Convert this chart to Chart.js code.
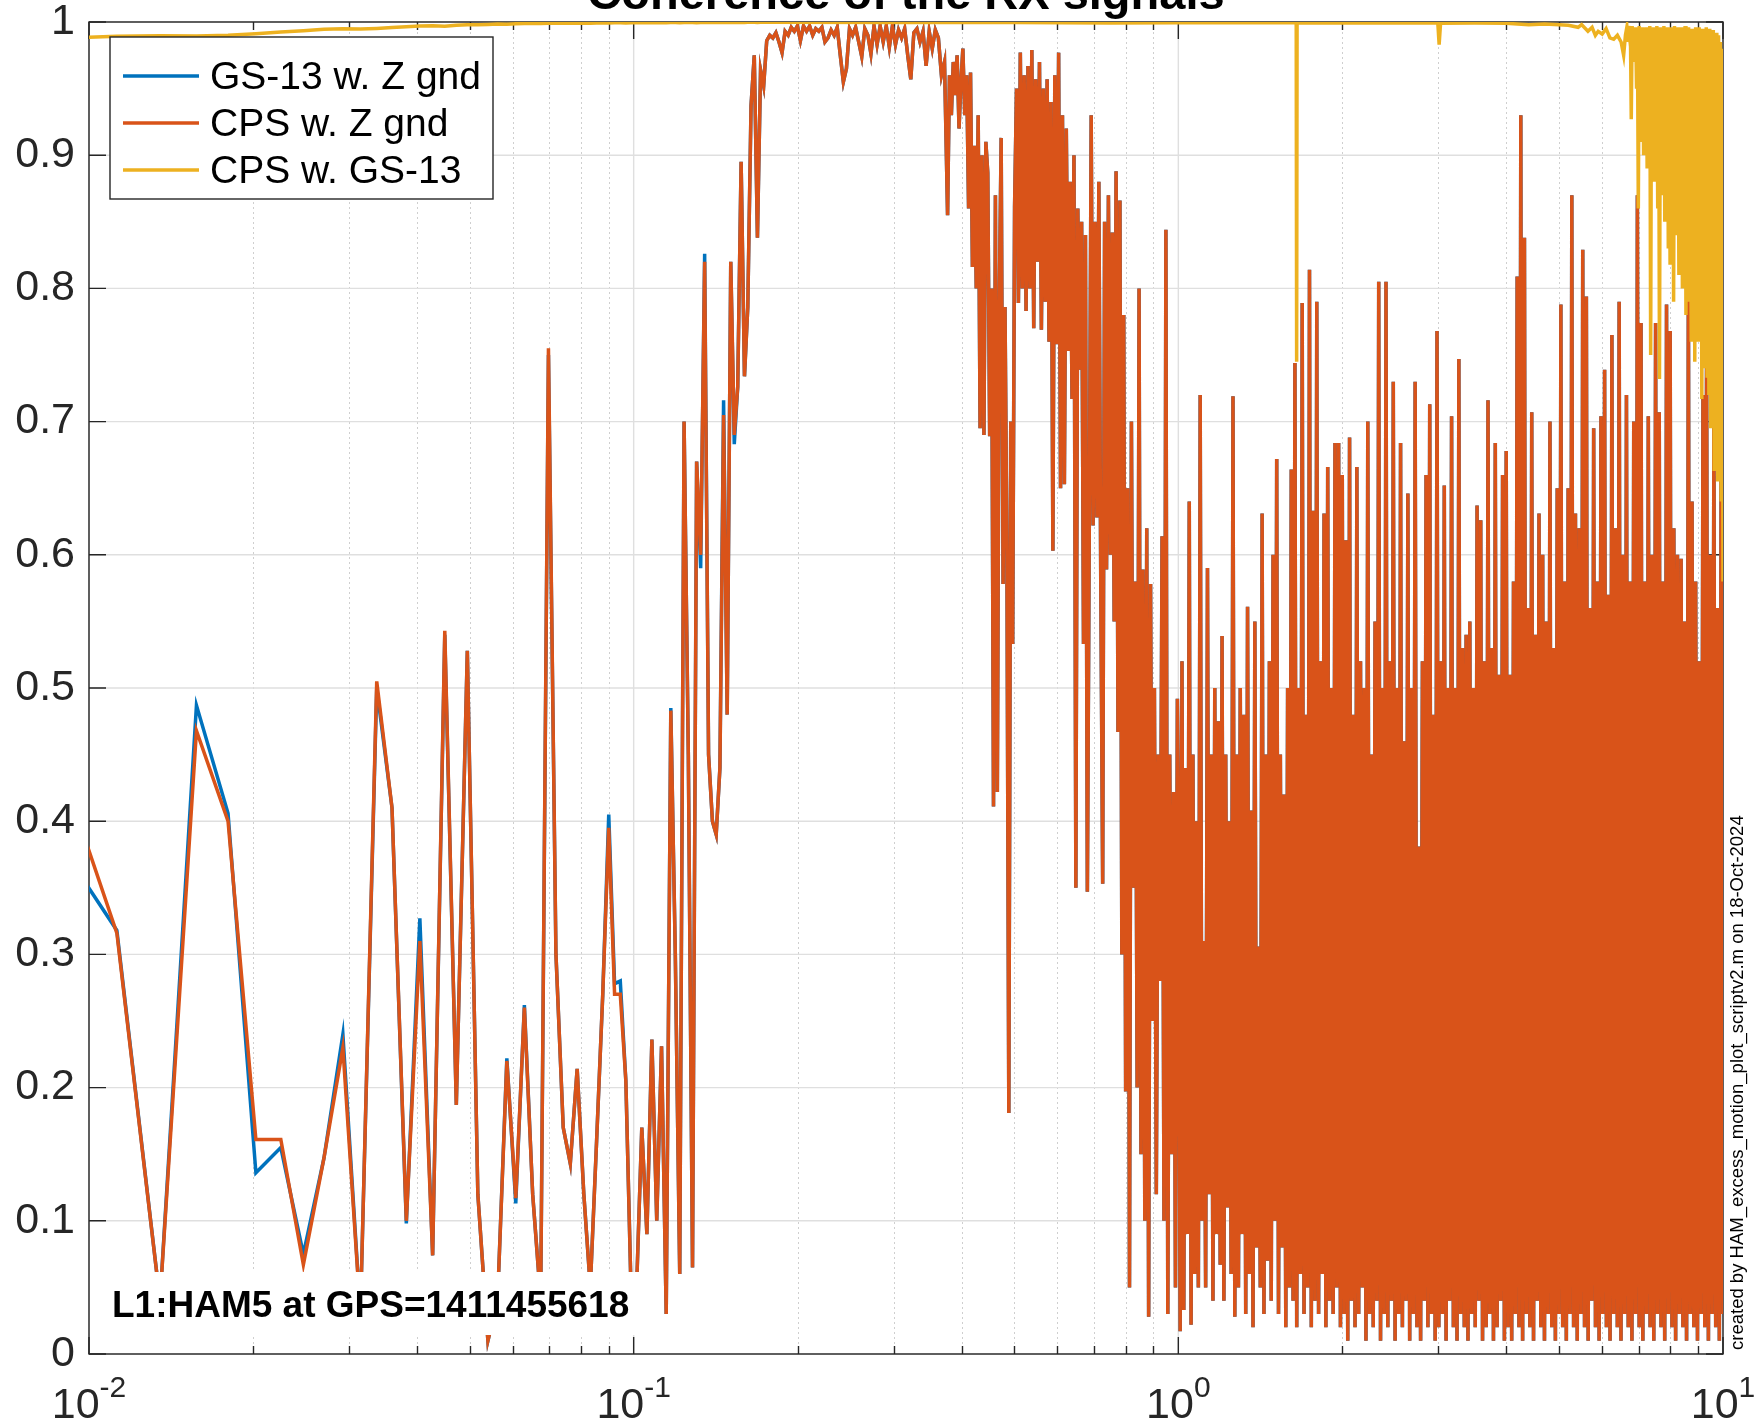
<!DOCTYPE html>
<html>
<head>
<meta charset="utf-8">
<title>Coherence of the RX signals</title>
<script src="https://cdn.jsdelivr.net/npm/chart.js@4.4.1/dist/chart.umd.min.js"></script>
<style>
  html, body { margin: 0; padding: 0; background: #fff; }
  canvas { display: block; }
</style>
</head>
<body>
<canvas id="coh" width="1754" height="1427"></canvas>
<script>
const binHz = 0.00225;
const firstBin = 4;

// CPS w. Z gnd, bins 4..77
const cpsLow = [
  0.433, 0.316, 0.04, 0.468, 0.400, 0.161, 0.161, 0.067, 0.147, 0.230,
  0.03, 0.505, 0.41, 0.10, 0.31, 0.074, 0.543, 0.187, 0.528, 0.12,
  0.01, 0.04, 0.22, 0.117, 0.26, 0.12, 0.04, 0.755, 0.30, 0.17,
  0.143, 0.214, 0.12, 0.05, 0.16, 0.27, 0.395, 0.27, 0.27, 0.205,
  0.04, 0.05, 0.17, 0.09, 0.236, 0.10, 0.231, 0.03, 0.483, 0.30,
  0.06, 0.70, 0.45, 0.065, 0.67, 0.60, 0.82, 0.45, 0.40, 0.39,
  0.44, 0.705, 0.48, 0.82, 0.69, 0.726, 0.895, 0.734, 0.786, 0.937,
  0.975, 0.838, 0.964, 0.952
];
// GS-13 w. Z gnd, bins 4..77
const gsLow = [
  0.378, 0.318, 0.04, 0.487, 0.406, 0.136, 0.155, 0.075, 0.147, 0.240,
  0.03, 0.50, 0.41, 0.098, 0.327, 0.074, 0.54, 0.187, 0.528, 0.12,
  0.01, 0.04, 0.222, 0.113, 0.262, 0.12, 0.04, 0.75, 0.30, 0.17,
  0.143, 0.214, 0.12, 0.05, 0.16, 0.27, 0.405, 0.278, 0.28, 0.205,
  0.04, 0.05, 0.17, 0.09, 0.236, 0.10, 0.231, 0.03, 0.485, 0.30,
  0.06, 0.70, 0.45, 0.065, 0.67, 0.59, 0.826, 0.45, 0.40, 0.39,
  0.44, 0.716, 0.48, 0.82, 0.683, 0.726, 0.895, 0.734, 0.786, 0.937,
  0.975, 0.838, 0.964, 0.952
];
// CPS w. GS-13, bins 4..77
const crossLow = [
  0.988, 0.9893, 0.9897, 0.9895, 0.990, 0.9912, 0.9925, 0.9935, 0.9945, 0.995,
  0.9948, 0.9952, 0.9958, 0.9965, 0.997, 0.9972, 0.9968, 0.9975, 0.998, 0.998,
  0.9982, 0.9985, 0.9983, 0.9987, 0.9988, 0.999, 0.9988, 0.999, 0.9991, 0.999,
  0.9992, 0.999, 0.9993, 0.9991, 0.9993, 0.9994, 0.9992, 0.9994, 0.9995, 0.9993,
  0.9994, 0.9995, 0.9994, 0.9996, 0.9995, 0.9994, 0.9996, 0.9995, 0.9996, 0.9996,
  0.9995, 0.9996, 0.9997, 0.9996, 0.9995, 0.9997, 0.9996, 0.9997, 0.9997, 0.9996,
  0.9997, 0.9996, 0.9997, 0.9998, 0.9997, 0.9997, 0.9998, 0.9997, 0.9998, 0.9998,
  0.9998, 0.9997, 0.9998, 0.9998
];

// above 0.175 Hz the CPS trace is read on log-spaced positions across each span
const plateauSpan = [0.1755, 0.377];
const cpsPlateau = [
  0.986, 0.990, 0.988, 0.992, 0.985, 0.977, 0.993, 0.990, 0.996, 0.993,
  0.997, 0.986, 0.997, 0.993, 0.997, 0.990, 0.995, 0.993, 0.996, 0.985,
  0.988, 0.994, 0.990, 0.996, 0.975, 0.955, 0.965, 0.995, 0.990, 0.996,
  0.985, 0.974, 0.995, 0.990, 0.976, 0.997, 0.983, 0.997, 0.985, 0.997,
  0.981, 0.997, 0.983, 0.994, 0.988, 0.995, 0.975, 0.957, 0.992, 0.995,
  0.985, 0.993, 0.967, 0.993, 0.980, 0.994, 0.988, 0.960, 0.970, 0.855
];
const kneeSpan = [0.38, 0.996];
const cpsKnee = [
  0.96, 0.93, 0.97, 0.945, 0.975, 0.92, 0.955, 0.98, 0.93, 0.96,
  0.86, 0.962, 0.816, 0.907, 0.80, 0.93, 0.695, 0.90, 0.69, 0.91,
  0.887, 0.689, 0.80, 0.411, 0.87, 0.422, 0.789, 0.913, 0.578, 0.786,
  0.60, 0.181, 0.70, 0.533, 0.861, 0.95, 0.789, 0.977, 0.80, 0.96,
  0.783, 0.967, 0.80, 0.979, 0.77, 0.957, 0.82, 0.97, 0.769, 0.95,
  0.79, 0.957, 0.76, 0.94, 0.603, 0.96, 0.758, 0.977, 0.65, 0.93,
  0.653, 0.92, 0.753, 0.88, 0.717, 0.90, 0.35, 0.86, 0.739, 0.85,
  0.533, 0.84, 0.347, 0.62, 0.93, 0.622, 0.85, 0.628, 0.88, 0.58,
  0.353, 0.85, 0.589, 0.87, 0.60, 0.842, 0.55, 0.888, 0.467, 0.866,
  0.30, 0.78, 0.197, 0.65, 0.05, 0.70, 0.35, 0.58, 0.20, 0.80,
  0.15, 0.589, 0.10, 0.62, 0.028, 0.578, 0.25, 0.50, 0.12, 0.45,
  0.28, 0.614, 0.10, 0.844, 0.03, 0.45, 0.15, 0.422, 0.05, 0.492
];
const highSpan = [1.0, 10.0];
const cpsHigh = [
  0.42, 0.017, 0.52, 0.033, 0.44, 0.09, 0.64, 0.022, 0.45, 0.06, 0.40, 0.05,
  0.72, 0.10, 0.31, 0.05, 0.59, 0.12, 0.45, 0.04, 0.50, 0.09, 0.475, 0.067,
  0.539, 0.04, 0.45, 0.11, 0.40, 0.06, 0.719, 0.028, 0.45, 0.05, 0.50, 0.09,
  0.48, 0.03, 0.561, 0.06, 0.408, 0.02, 0.55, 0.08, 0.306, 0.05, 0.631, 0.03,
  0.45, 0.07, 0.52, 0.04, 0.60, 0.10,
  0.672, 0.03, 0.45, 0.08, 0.42, 0.02, 0.50, 0.05, 0.664, 0.04, 0.744, 0.02,
  0.50, 0.06, 0.789, 0.03, 0.48, 0.05, 0.814, 0.02, 0.633, 0.04, 0.79, 0.03,
  0.52, 0.06, 0.631, 0.02, 0.666, 0.04, 0.50, 0.03, 0.684, 0.05, 0.684, 0.02,
  0.66, 0.03, 0.611, 0.01, 0.688, 0.04, 0.48, 0.02, 0.666, 0.03, 0.52, 0.05,
  0.50, 0.01, 0.70, 0.03, 0.45, 0.02, 0.55, 0.04, 0.805, 0.01, 0.50, 0.03,
  0.805, 0.02, 0.52, 0.04, 0.73, 0.01, 0.50, 0.03, 0.684, 0.02, 0.46, 0.04,
  0.646, 0.01, 0.50, 0.03, 0.73, 0.02, 0.381, 0.01, 0.52, 0.04, 0.66, 0.02,
  0.713, 0.03, 0.48, 0.01,
  0.768, 0.02, 0.52, 0.03, 0.652, 0.01, 0.50, 0.04, 0.704, 0.02, 0.50, 0.01,
  0.747, 0.03, 0.53, 0.02, 0.54, 0.01, 0.55, 0.03, 0.50, 0.02, 0.637, 0.04,
  0.626, 0.01, 0.52, 0.02, 0.716, 0.03, 0.53, 0.01, 0.684, 0.02, 0.51, 0.04,
  0.66, 0.01,
  0.678, 0.02, 0.51, 0.01, 0.58, 0.03, 0.809, 0.02, 0.93, 0.01, 0.838, 0.03,
  0.56, 0.02, 0.707, 0.01, 0.54, 0.04, 0.631, 0.02, 0.60, 0.01, 0.55, 0.03,
  0.70, 0.02, 0.53, 0.01, 0.65, 0.03,
  0.788, 0.02, 0.58, 0.01, 0.65, 0.03, 0.87, 0.02, 0.631, 0.01, 0.62, 0.03,
  0.829, 0.02, 0.794, 0.01, 0.56, 0.04, 0.695, 0.02, 0.58, 0.01, 0.704, 0.03,
  0.739, 0.02, 0.57, 0.01, 0.765, 0.03, 0.62, 0.02, 0.79, 0.01, 0.60, 0.03,
  0.72, 0.02, 0.58, 0.01, 0.70, 0.03,
  0.87, 0.02, 0.774, 0.01, 0.58, 0.03, 0.704, 0.02, 0.60, 0.01, 0.774, 0.03,
  0.707, 0.02, 0.58, 0.01, 0.788, 0.03, 0.768, 0.02, 0.62, 0.01, 0.60, 0.03,
  0.597, 0.02, 0.55, 0.01, 0.806, 0.03, 0.64, 0.02, 0.58, 0.01, 0.52, 0.03,
  0.72, 0.02, 0.76, 0.01, 0.60, 0.03, 0.70, 0.02, 0.56, 0.01, 0.68, 0.03
];

// CPS w. GS-13 above 0.175 Hz: close to 1 with a few dips
const crossFreq = [
  0.1755, 0.3, 0.5, 0.75, 1.0, 1.3, 1.646, 1.649, 1.652, 2.0,
  2.5, 2.995, 3.012, 3.03, 3.5, 4.0, 4.4, 4.7, 5.0, 5.2,
  5.42, 5.5, 5.65, 5.75, 5.83, 5.9, 6.0, 6.1, 6.2, 6.3,
  6.4, 6.5, 6.57, 6.62
];
const crossVal = [
  0.9998, 0.9997, 0.9996, 0.9993, 0.9995, 0.9994, 0.9994, 0.745, 0.9994, 0.9993,
  0.9992, 0.9992, 0.983, 0.9991, 0.9992, 0.999, 0.998, 0.9985, 0.998, 0.9975,
  0.996, 0.998, 0.993, 0.996, 0.99, 0.993, 0.991, 0.995, 0.988, 0.987,
  0.99, 0.985, 0.975, 0.99
];
const crossTailSpan = [6.66, 10.0];
const crossTail = [
  0.996, 0.985, 0.997, 0.99, 0.996, 0.927, 0.997, 0.985, 0.995, 0.97,
  0.996, 0.95, 0.995, 0.86, 0.997, 0.93, 0.994, 0.91, 0.996, 0.90,
  0.995, 0.92, 0.996, 0.89, 0.993, 0.91, 0.997, 0.75, 0.994, 0.90,
  0.996, 0.88, 0.993, 0.90, 0.997, 0.86, 0.994, 0.732, 0.996, 0.87,
  0.993, 0.88, 0.997, 0.85, 0.994, 0.872, 0.996, 0.83, 0.993, 0.819,
  0.996, 0.86, 0.994, 0.79, 0.997, 0.84, 0.993, 0.85, 0.996, 0.81,
  0.994, 0.83, 0.996, 0.80, 0.993, 0.82, 0.997, 0.78, 0.994, 0.80,
  0.996, 0.79, 0.993, 0.76, 0.995, 0.80, 0.993, 0.745, 0.996, 0.78,
  0.994, 0.76, 0.996, 0.79, 0.993, 0.717, 0.995, 0.75, 0.993, 0.74,
  0.996, 0.733, 0.994, 0.72, 0.995, 0.695, 0.993, 0.70, 0.994, 0.663,
  0.99, 0.68, 0.992, 0.655, 0.99, 0.70, 0.985, 0.64, 0.98, 0.58
];

const yTicks = [0, 0.1, 0.2, 0.3, 0.4, 0.5, 0.6, 0.7, 0.8, 0.9, 1];
const xTicks = [0.01, 0.1, 1, 10];
const xTickExp = ['-2', '-1', '0', '1'];

const FONT = '"Liberation Sans", Arial, Helvetica, sans-serif';
const INK = '#262626';

function binPoints(vals) {
  return vals.map((v, i) => ({ x: (firstBin + i) * binHz, y: v }));
}
function spanPoints(span, vals) {
  const lo = Math.log10(span[0]), hi = Math.log10(span[1]);
  return vals.map((v, i) => ({ x: Math.pow(10, lo + (hi - lo) * i / (vals.length - 1)), y: v }));
}

const cpsUpper = spanPoints(plateauSpan, cpsPlateau)
  .concat(spanPoints(kneeSpan, cpsKnee), spanPoints(highSpan, cpsHigh));
const cpsPts = binPoints(cpsLow).concat(cpsUpper);
// the GS-13 trace sits under the CPS one above 0.175 Hz
const gsPts = binPoints(gsLow).concat(cpsUpper);
const crossPts = binPoints(crossLow)
  .concat(crossFreq.map((f, i) => ({ x: f, y: crossVal[i] })), spanPoints(crossTailSpan, crossTail));

const minorX = [];
xTicks.slice(0, -1).forEach(d => { for (let k = 2; k <= 9; k++) minorX.push(k * d); });

const frame = {
  id: 'frame',
  beforeDatasetsDraw(chart) {
    const { ctx, chartArea: a, scales: { x, y } } = chart;
    ctx.save();
    // dotted minor grid on x
    ctx.strokeStyle = '#cfcfcf';
    ctx.lineWidth = 1;
    ctx.setLineDash([2, 3]);
    minorX.forEach(v => {
      const px = Math.round(x.getPixelForValue(v)) + 0.5;
      ctx.beginPath(); ctx.moveTo(px, a.top); ctx.lineTo(px, a.bottom); ctx.stroke();
    });
    ctx.setLineDash([]);
    // major grid
    ctx.strokeStyle = '#dfdfdf';
    ctx.lineWidth = 1.4;
    ctx.beginPath();
    xTicks.forEach(v => {
      const px = x.getPixelForValue(v);
      ctx.moveTo(px, a.top); ctx.lineTo(px, a.bottom);
    });
    yTicks.forEach(v => {
      const py = y.getPixelForValue(v);
      ctx.moveTo(a.left, py); ctx.lineTo(a.right, py);
    });
    ctx.stroke();
    // box and inward ticks
    ctx.strokeStyle = INK;
    ctx.lineWidth = 1.4;
    ctx.strokeRect(a.left, a.top, a.right - a.left, a.bottom - a.top);
    ctx.beginPath();
    xTicks.forEach(v => {
      const px = x.getPixelForValue(v);
      ctx.moveTo(px, a.bottom); ctx.lineTo(px, a.bottom - 17);
      ctx.moveTo(px, a.top); ctx.lineTo(px, a.top + 17);
    });
    minorX.forEach(v => {
      const px = Math.round(x.getPixelForValue(v)) + 0.5;
      ctx.moveTo(px, a.bottom); ctx.lineTo(px, a.bottom - 8);
      ctx.moveTo(px, a.top); ctx.lineTo(px, a.top + 8);
    });
    yTicks.forEach(v => {
      const py = y.getPixelForValue(v);
      ctx.moveTo(a.left, py); ctx.lineTo(a.left + 17, py);
      ctx.moveTo(a.right, py); ctx.lineTo(a.right - 17, py);
    });
    ctx.stroke();
    ctx.restore();
  },
  afterDatasetsDraw(chart) {
    const { ctx } = chart;
    ctx.save();
    // legend
    const lx = 110, ly = 37, lw = 383, lh = 162;
    ctx.fillStyle = '#fff';
    ctx.fillRect(lx, ly, lw, lh);
    ctx.strokeStyle = INK;
    ctx.lineWidth = 1.4;
    ctx.strokeRect(lx, ly, lw, lh);
    ctx.font = '39px ' + FONT;
    ctx.textBaseline = 'middle';
    chart.data.datasets.forEach((ds, i) => {
      const cy = 76 + i * 47;
      ctx.strokeStyle = ds.borderColor;
      ctx.lineWidth = 3.5;
      ctx.beginPath(); ctx.moveTo(123, cy); ctx.lineTo(199, cy); ctx.stroke();
      ctx.fillStyle = '#000';
      ctx.fillText(ds.label, 210, cy + 2);
    });
    // station label with white backing
    ctx.fillStyle = '#fff';
    ctx.fillRect(103, 1272, 541, 63);
    ctx.fillStyle = '#000';
    ctx.font = 'bold 37px ' + FONT;
    ctx.textBaseline = 'alphabetic';
    ctx.fillText('L1:HAM5 at GPS=1411455618', 112, 1317);
    ctx.restore();
  },
  afterDraw(chart) {
    const { ctx, chartArea: a, scales: { x } } = chart;
    ctx.save();
    // decade labels with exponents
    ctx.fillStyle = INK;
    ctx.textBaseline = 'alphabetic';
    ctx.textAlign = 'left';
    xTicks.forEach((v, i) => {
      const px = x.getPixelForValue(v);
      ctx.font = '43px ' + FONT;
      const w1 = ctx.measureText('10').width;
      ctx.font = '30px ' + FONT;
      const w2 = ctx.measureText(xTickExp[i]).width;
      const left = px - (w1 + w2) / 2;
      ctx.font = '43px ' + FONT;
      ctx.fillText('10', left, 1418);
      ctx.font = '30px ' + FONT;
      ctx.fillText(xTickExp[i], left + w1, 1397);
    });
    // title, cut by the top edge
    ctx.fillStyle = '#000';
    ctx.font = 'bold 47px ' + FONT;
    ctx.textAlign = 'center';
    ctx.fillText('Coherence of the RX signals', (a.left + a.right) / 2, 9);
    // side note
    ctx.font = '18.5px ' + FONT;
    ctx.textAlign = 'left';
    ctx.textBaseline = 'middle';
    ctx.translate(1738, 1350);
    ctx.rotate(-Math.PI / 2);
    ctx.fillText('created by HAM_excess_motion_plot_scriptv2.m on 18-Oct-2024', 0, 0);
    ctx.restore();
  }
};

new Chart(document.getElementById('coh').getContext('2d'), {
  type: 'line',
  data: {
    datasets: [
      { label: 'GS-13 w. Z gnd', data: gsPts, borderColor: '#0072BD', order: 3 },
      { label: 'CPS w. Z gnd', data: cpsPts, borderColor: '#D95319', order: 2 },
      { label: 'CPS w. GS-13', data: crossPts, borderColor: '#EDB120', order: 1 }
    ]
  },
  options: {
    responsive: false,
    devicePixelRatio: 1,
    animation: false,
    parsing: false,
    normalized: true,
    elements: {
      point: { radius: 0 },
      line: { borderWidth: 3.5, tension: 0, fill: false }
    },
    layout: { padding: { left: 0, right: 31, top: 22, bottom: 73 } },
    scales: {
      x: {
        type: 'logarithmic',
        min: 0.01,
        max: 10,
        ticks: { display: false },
        grid: { display: false },
        border: { display: false },
        afterFit: s => { s.height = 0; s.paddingLeft = 0; s.paddingRight = 0; }
      },
      y: {
        min: 0,
        max: 1,
        afterBuildTicks: s => { s.ticks = yTicks.map(v => ({ value: v })); },
        ticks: {
          color: INK,
          padding: 14,
          autoSkip: false,
          font: { family: FONT, size: 43, lineHeight: 1 },
          callback: v => String(Math.round(v * 10) / 10)
        },
        grid: { display: false, drawTicks: false },
        border: { display: false },
        afterFit: s => { s.width = 89; s.paddingTop = 0; s.paddingBottom = 0; }
      }
    },
    plugins: {
      legend: { display: false },
      tooltip: { enabled: false },
      title: { display: false }
    }
  },
  plugins: [frame]
});
</script>
</body>
</html>
